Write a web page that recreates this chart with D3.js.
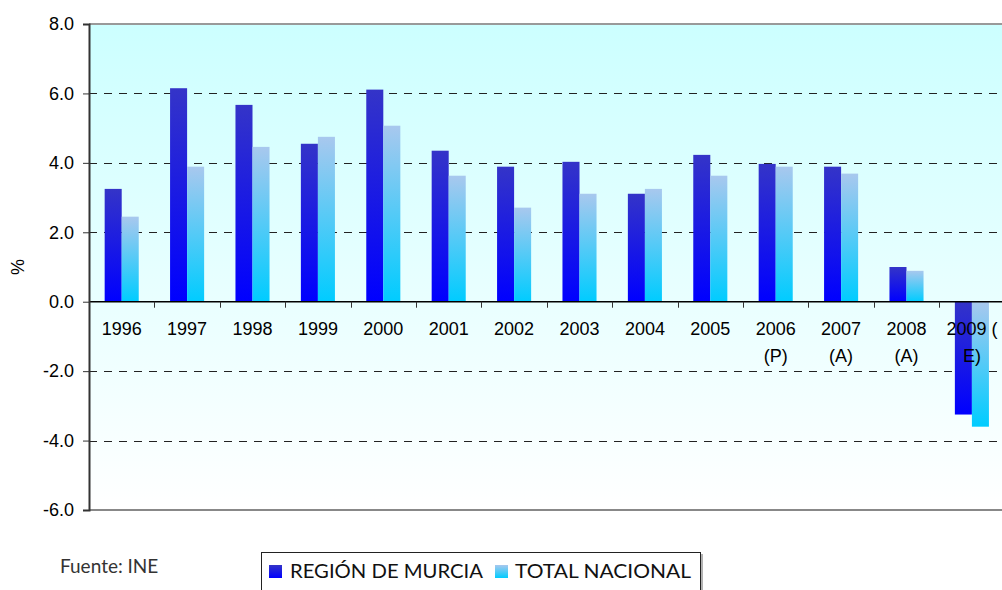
<!DOCTYPE html>
<html>
<head>
<meta charset="utf-8">
<script src="https://cdn.jsdelivr.net/npm/d3@7"></script>
<style>
  body { margin: 0; background: #fff; }
  .tick-label { font-family: "Liberation Sans", Arial, sans-serif; font-size: 18px; fill: #000; }
  .gothic { font-family: "Century Gothic", "URW Gothic", Lato, sans-serif; }
</style>
</head>
<body>
<svg width="1002" height="590"></svg>
<script>
// categories, two series, y ticks
const yearLabels = [
  ['1996'], ['1997'], ['1998'], ['1999'], ['2000'], ['2001'], ['2002'],
  ['2003'], ['2004'], ['2005'], ['2006', '(P)'], ['2007', '(A)'], ['2008', '(A)'], ['2009 (', 'E)']
];
const years = yearLabels.map(d => d.join(' '));
const murcia = [3.25, 6.15, 5.67, 4.55, 6.11, 4.35, 3.89, 4.03, 3.11, 4.23, 3.97, 3.89, 1.0, -3.25];
const nacional = [2.45, 3.89, 4.46, 4.75, 5.07, 3.63, 2.71, 3.11, 3.25, 3.63, 3.89, 3.69, 0.89, -3.6];
const seriesNames = ['REGIÓN DE MURCIA', 'TOTAL NACIONAL'];
const yTicks = [-6, -4, -2, 0, 2, 4, 6, 8];

const margin = { left: 89, top: 24, bottom: 80 };
const svg = d3.select('svg');
const height = +svg.attr('height');
const innerWidth = 14 * 65.4;
const innerHeight = height - margin.top - margin.bottom;

const defs = svg.append('defs');
function vGrad(id, top, bottom) {
  const g = defs.append('linearGradient').attr('id', id)
    .attr('x1', 0).attr('y1', 0).attr('x2', 0).attr('y2', 1);
  g.append('stop').attr('offset', '0%').attr('stop-color', top);
  g.append('stop').attr('offset', '100%').attr('stop-color', bottom);
}
vGrad('bg', '#ccffff', '#ffffff');
vGrad('gMurcia', '#3434c8', '#0000ff');
vGrad('gNacional', '#a8c8ee', '#00ccff');
const fills = ['url(#gMurcia)', 'url(#gNacional)'];

const g = svg.append('g').attr('transform', `translate(${margin.left}, ${margin.top})`);

const x0 = d3.scaleBand().domain(years).range([0, innerWidth]).padding(0);
const x1 = d3.scaleBand().domain(seriesNames).range([0, x0.bandwidth()])
  .paddingInner(0).paddingOuter(0.92);
const y = d3.scaleLinear().domain([-6, 8]).range([innerHeight, 0]);

// plot background
g.append('rect')
  .attr('width', innerWidth).attr('height', innerHeight)
  .attr('fill', 'url(#bg)');

// dashed grid
g.selectAll('.grid')
  .data(yTicks.filter(d => d !== 0 && d !== -6 && d !== 8))
  .enter().append('line')
  .attr('x1', 0).attr('x2', innerWidth)
  .attr('y1', d => Math.round(y(d)) + 0.5).attr('y2', d => Math.round(y(d)) + 0.5)
  .attr('stroke', '#222').attr('stroke-dasharray', '8,7');

// top / bottom borders
g.append('line').attr('x1', 0).attr('x2', innerWidth).attr('y1', 0).attr('y2', 0)
  .attr('stroke', '#999').attr('stroke-width', 2);
g.append('line').attr('x1', 0).attr('x2', innerWidth).attr('y1', innerHeight).attr('y2', innerHeight)
  .attr('stroke', '#888').attr('stroke-width', 2);

// bars
const rows = years.map((yr, i) => ({ year: yr, values: [murcia[i], nacional[i]] }));
const groups = g.selectAll('.year')
  .data(rows)
  .enter().append('g')
  .attr('transform', d => `translate(${x0(d.year)}, 0)`);

groups.selectAll('rect')
  .data(d => d.values.map((v, k) => ({ key: seriesNames[k], value: v, k: k })))
  .enter().append('rect')
  .attr('x', d => x1(d.key))
  .attr('width', x1.bandwidth())
  .attr('y', d => y(Math.max(0, d.value)))
  .attr('height', d => Math.abs(y(d.value) - y(0)))
  .attr('fill', d => fills[d.k]);

// zero line with ticks at category boundaries
g.append('line').attr('x1', 0).attr('x2', innerWidth)
  .attr('y1', y(0)).attr('y2', y(0))
  .attr('stroke', '#000').attr('stroke-width', 1.5);
g.selectAll('.xtick')
  .data(years.slice(1))
  .enter().append('line')
  .attr('x1', d => Math.round(x0(d)) + 0.5).attr('x2', d => Math.round(x0(d)) + 0.5)
  .attr('y1', y(0)).attr('y2', y(0) + 6)
  .attr('stroke', '#333');

// category labels
const labels = g.selectAll('.xlabel')
  .data(yearLabels)
  .enter().append('text')
  .attr('class', 'tick-label')
  .attr('text-anchor', 'middle')
  .attr('transform', (d, i) => `translate(${x0(years[i]) + x0.bandwidth() / 2}, ${y(0) + 33})`);
labels.selectAll('tspan')
  .data(d => d)
  .enter().append('tspan')
  .attr('x', 0)
  .attr('y', (d, i) => i * 27)
  .text(d => d);

// y axis
const yAxis = d3.axisLeft(y).tickValues(yTicks).tickSize(6).tickPadding(9)
  .tickFormat(d => d.toFixed(1));
const ya = g.append('g').call(yAxis);
ya.select('.domain').attr('stroke', '#333').attr('stroke-width', 2);
ya.selectAll('.tick line').attr('stroke', '#333');
ya.selectAll('.tick text').attr('class', 'tick-label');

svg.append('text')
  .attr('class', 'tick-label')
  .attr('transform', 'translate(24, 267) rotate(-90)')
  .attr('text-anchor', 'middle')
  .text('%');

// source note
svg.append('text')
  .attr('class', 'gothic')
  .attr('x', 60).attr('y', 573)
  .attr('font-size', 19)
  .attr('fill', '#333')
  .text('Fuente: INE');

// legend
const legend = svg.append('g').attr('transform', 'translate(261, 552)');
legend.append('rect')
  .attr('x', 0.5).attr('y', 0.5).attr('width', 439).attr('height', 50)
  .attr('fill', '#fff').attr('stroke', '#222');
legend.append('line').attr('x1', 441).attr('x2', 441).attr('y1', 2).attr('y2', 50)
  .attr('stroke', '#999').attr('stroke-width', 1.5);

const legendItems = [
  { name: seriesNames[0], sx: 8, tx: 29, len: 193 },
  { name: seriesNames[1], sx: 234, tx: 254, len: 176 }
];
legendItems.forEach((d, i) => {
  legend.append('rect')
    .attr('x', d.sx).attr('y', 13).attr('width', 13).attr('height', 13)
    .attr('fill', fills[i]);
  legend.append('text')
    .attr('class', 'gothic')
    .attr('x', d.tx).attr('y', 26)
    .attr('font-size', 20)
    .attr('fill', '#111')
    .attr('textLength', d.len)
    .attr('lengthAdjust', 'spacingAndGlyphs')
    .text(d.name);
});
</script>
</body>
</html>
